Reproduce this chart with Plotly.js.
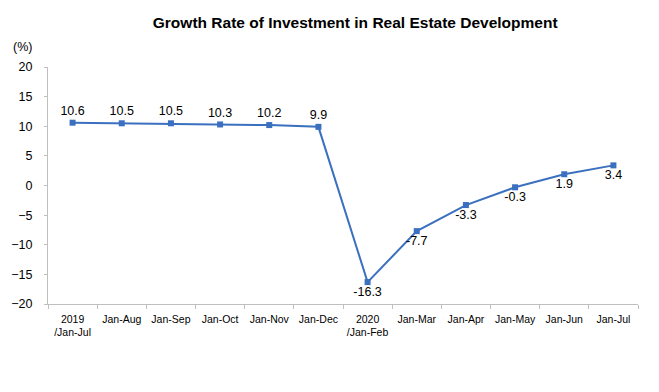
<!DOCTYPE html>
<html><head><meta charset="utf-8">
<script src="https://cdn.plot.ly/plotly-3.0.1.min.js"></script>
<style>html,body{margin:0;padding:0;background:#fff}#c{width:659px;height:392px}</style>
</head><body><div id="c"></div>
<script>
const categories = ["2019<br>/Jan-Jul","Jan-Aug","Jan-Sep","Jan-Oct","Jan-Nov","Jan-Dec","2020<br>/Jan-Feb","Jan-Mar","Jan-Apr","Jan-May","Jan-Jun","Jan-Jul"];
const growth = [10.6,10.5,10.5,10.3,10.2,9.9,-16.3,-7.7,-3.3,-0.3,1.9,3.4];
const labelPos = ["top center","top center","top center","top center","top center","top center","bottom center","bottom center","bottom center","bottom center","bottom center","bottom center"];
const yTicks = [-20,-15,-10,-5,0,5,10,15,20];

Plotly.newPlot('c', [{
  x: categories, y: growth, type: 'scatter', mode: 'lines+markers+text',
  text: growth.map(v => v.toFixed(1)), textposition: labelPos,
  textfont: {family: 'Liberation Sans, Arial', size: 12.5, color: '#000'},
  line: {color: '#3A70BF', width: 2},
  marker: {symbol: 'square', size: 6, color: '#3A70BF'},
  cliponaxis: false, hoverinfo: 'skip'
}], {
  width: 659, height: 392,
  margin: {l: 48, r: 21, t: 67, b: 88},
  paper_bgcolor: '#fff', plot_bgcolor: '#fff',
  showlegend: false,
  font: {family: 'Liberation Sans, Arial', color: '#000'},
  title: {text: '<b>Growth Rate of Investment in Real Estate Development</b>', x: 0.539, xanchor: 'center', y: 0.942, yanchor: 'middle', font: {size: 15.5, family: 'Liberation Sans, Arial', color: '#000'}},
  xaxis: {type: 'category', range: [-0.5, 11.5], showgrid: false, zeroline: false, showline: true, linecolor: '#BFBFBF', linewidth: 1,
    ticks: 'outside', tickson: 'boundaries', ticklen: 4, tickcolor: '#BFBFBF', ticklabelstandoff: 5, tickfont: {size: 10.5, family: 'Liberation Sans, Arial', color: '#000'}, tickangle: 0, fixedrange: true},
  yaxis: {range: [-20, 20], tickvals: yTicks, showgrid: false, zeroline: false, showline: true, linecolor: '#BFBFBF', linewidth: 1,
    ticks: 'outside', ticklen: 3, tickcolor: '#BFBFBF', ticklabelstandoff: 9, tickfont: {size: 12.5, family: 'Liberation Sans, Arial', color: '#000'}, fixedrange: true},
  annotations: [{text: '(%)', xref: 'paper', yref: 'paper', x: -0.024, y: 1.085, xanchor: 'right', yanchor: 'middle', showarrow: false, font: {size: 12.5, family: 'Liberation Sans, Arial', color: '#000'}}]
}, {displayModeBar: false, staticPlot: true});
</script></body></html>
